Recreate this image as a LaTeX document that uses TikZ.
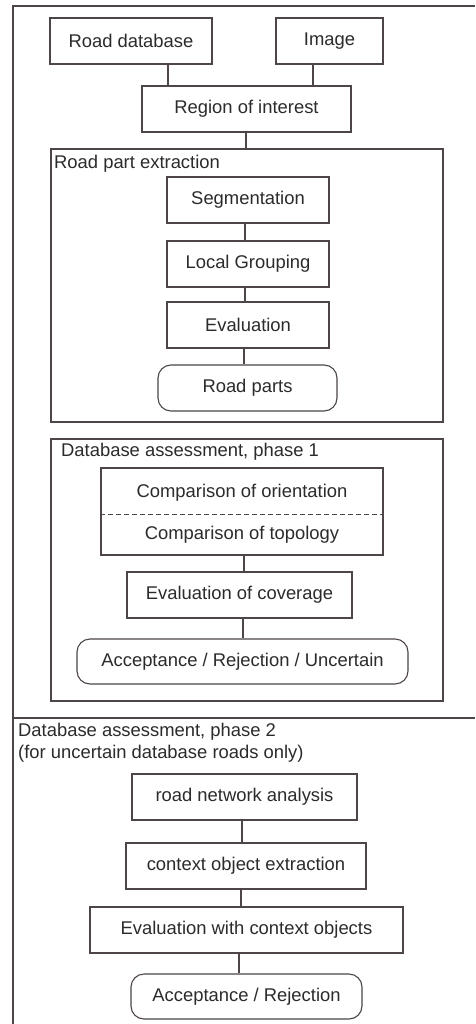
\documentclass[tikz,border=0pt]{standalone}
\usepackage{fontspec}
\setmainfont{Liberation Sans}
\definecolor{ln}{RGB}{78,70,70}
\definecolor{tx}{RGB}{45,42,42}
\begin{document}
\begin{tikzpicture}[x=1pt,y=-1pt,
  every node/.style={font=\fontsize{18.4}{22}\selectfont, text=tx},
  box/.style={draw=ln, line width=1.1pt, inner sep=0pt, minimum height=46pt},
  rbox/.style={box, rounded corners=13pt},
  frame/.style={draw=ln, line width=1.1pt, inner sep=0pt},
  conn/.style={draw=ln, line width=1.1pt},
  title/.style={anchor=west, inner sep=0pt}]
\useasboundingbox (0,0) rectangle (475,1024);
\fill[white] (0,0) rectangle (475,1024);
% outer frame
\coordinate (otr) at (475,6);
\coordinate (otl) at (13,6);
\coordinate (obl) at (13,1024);
\coordinate (dl) at (13,718);
\coordinate (dr) at (475,718);
\draw[conn] (otr) -- (otl) -- (obl);
\draw[conn] (dl) -- (dr);
% top
\node[box, minimum width=162pt] (rdb) at (131,41) {Road database};
\node[box, minimum width=107pt] (img) at (329.5,41) {Image};
\node[box, minimum width=209pt] (roi) at (246.5,109) {Region of interest};
% road part extraction
\node[frame, minimum width=392pt, minimum height=273pt] (rpe) at (247,285.5) {};
\node[title] (rpet) at (54,164) {Road part extraction};
\node[box, minimum width=162pt] (seg) at (248,200) {Segmentation};
\node[box, minimum width=162pt] (lg) at (248,264) {Local Grouping};
\node[box, minimum width=162pt] (ev) at (248,325) {Evaluation};
\node[rbox, minimum width=179pt] (rp) at (247.5,388) {Road parts};
% phase 1
\node[frame, minimum width=392pt, minimum height=262pt] (ph1) at (247,570) {};
\node[title] (ph1t) at (61,452) {Database assessment, phase 1};
\node[box, minimum width=282pt, minimum height=87pt] (cmp) at (242,511.5) {};
\node (cmpa) at (242,493) {Comparison of orientation};
\node (cmpb) at (242,535) {Comparison of topology};
\draw[draw=ln, line width=1pt, dash pattern=on 5pt off 3pt] ([yshift=-2.5pt]cmp.west) -- ([yshift=-2.5pt]cmp.east);
\node[box, minimum width=225pt] (eoc) at (239.5,595) {Evaluation of coverage};
\node[rbox, minimum width=331pt, minimum height=45pt] (ars) at (242.5,661.5) {Acceptance / Rejection / Uncertain};
% phase 2
\node[title, align=left] (ph2t) at (18,743) {Database assessment, phase 2\\(for uncertain database roads only)};
\node[box, minimum width=225pt] (rna) at (244.5,797) {road network analysis};
\node[box, minimum width=240pt] (coe) at (246,866) {context object extraction};
\node[box, minimum width=313pt] (ewc) at (246.5,930) {Evaluation with context objects};
\node[rbox, minimum width=231pt, minimum height=45pt] (ar) at (246.5,996.5) {Acceptance / Rejection};
% connector x positions
\coordinate (x1) at (168,0);
\coordinate (x2) at (313,0);
\coordinate (x3) at (246,0);
\coordinate (x4) at (245,0);
\coordinate (x5) at (244,0);
\coordinate (x6) at (243,0);
\coordinate (x7) at (242,0);
\coordinate (x8) at (241,0);
\coordinate (x9) at (239,0);
\draw[conn] (rdb.south -| x1) -- (roi.north -| x1);
\draw[conn] (img.south -| x2) -- (roi.north -| x2);
\draw[conn] (roi.south -| x3) -- (rpe.north -| x3);
\draw[conn] (seg.south -| x4) -- (lg.north -| x4);
\draw[conn] (lg.south -| x4) -- (ev.north -| x4);
\draw[conn] (ev.south -| x5) -- (rp.north -| x5);
\draw[conn] (cmp.south -| x5) -- (eoc.north -| x5);
\draw[conn] (eoc.south -| x6) -- (ars.north -| x6);
\draw[conn] (rna.south -| x7) -- (coe.north -| x7);
\draw[conn] (coe.south -| x8) -- (ewc.north -| x8);
\draw[conn] (ewc.south -| x9) -- (ar.north -| x9);
\end{tikzpicture}
\end{document}
